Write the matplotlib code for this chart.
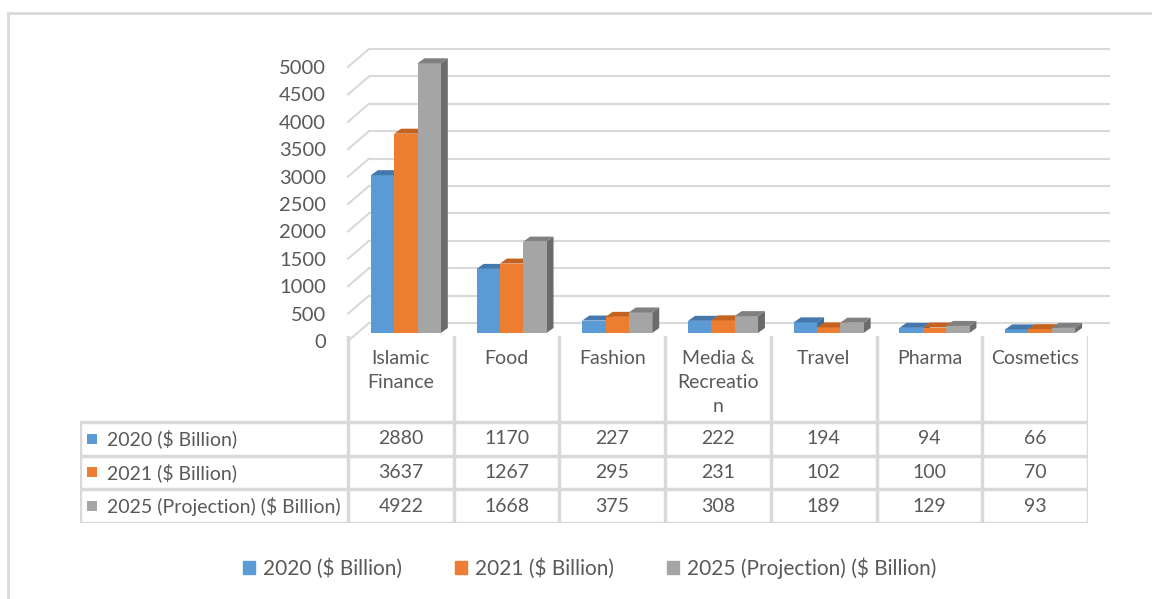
import numpy as np
import matplotlib.pyplot as plt
from matplotlib.patches import Polygon, Rectangle, Patch

plt.rcParams['font.family'] = ['Lato', 'DejaVu Sans']

# data
categories = ["Islamic\nFinance", "Food", "Fashion", "Media &\nRecreatio\nn",
              "Travel", "Pharma", "Cosmetics"]
series_names = ["2020 ($ Billion)", "2021 ($ Billion)", "2025 (Projection) ($ Billion)"]
v2020 = [2880, 1170, 227, 222, 194, 94, 66]
v2021 = [3637, 1267, 295, 231, 102, 100, 70]
v2025 = [4922, 1668, 375, 308, 189, 129, 93]
series = [v2020, v2021, v2025]
yticks = list(range(0, 5001, 500))

front_colors = ["#5B9BD5", "#ED7D31", "#A5A5A5"]
top_colors = ["#4578AD", "#C4621F", "#808080"]
side_colors = ["#3E6C9C", "#A9531A", "#6B6B6B"]
grid_c = "#D9D9D9"
text_c = "#595959"

W, H = 1152, 599
fig = plt.figure(figsize=(W / 100, H / 100), dpi=100)

# plot area: front plane, 7 categories between x=348..1088 px, 0 at y=341, 5000 at y=67
ax = fig.add_axes([348 / W, 1 - 341 / H, 740 / W, 274 / H])
ax.set_xlim(0, 7)
ax.set_ylim(0, 5000)
pxx = 740 / 7          # px per category
pxy = 274 / 5000       # px per value unit

back_dx, back_dy = 21 / pxx, 18 / pxy
bar_dx, bar_dy = 5 / pxx, 8 / pxy
dep_dx, dep_dy = 7 / pxx, 5 / pxy
bw = 23.3 / pxx

# walls gridlines (3D perspective)
for v in yticks:
    ax.plot([0, back_dx], [v, v + back_dy], color=grid_c, lw=1.5, zorder=1, clip_on=False)
    ax.plot([back_dx, 7 + back_dx], [v + back_dy, v + back_dy], color=grid_c, lw=1.5,
            zorder=1, clip_on=False)

# bars
x = np.arange(len(categories))
for i in x:
    for s in range(3):
        v = series[s][i]
        left = i + 0.5 - 1.5 * bw + s * bw + bar_dx
        base = bar_dy
        ax.bar(left, v, width=bw, bottom=base, align='edge', color=front_colors[s],
               lw=0, zorder=3 + i * 3 + s, clip_on=False)
        top = base + v
        ax.add_patch(Polygon([(left, top), (left + bw, top), (left + bw + dep_dx, top + dep_dy),
                              (left + dep_dx, top + dep_dy)], closed=True,
                             color=top_colors[s], lw=0, zorder=3 + i * 3 + s, clip_on=False))
        ax.add_patch(Polygon([(left + bw, base), (left + bw + dep_dx, base + dep_dy),
                              (left + bw + dep_dx, top + dep_dy), (left + bw, top)], closed=True,
                             color=side_colors[s], lw=0, zorder=2.9 + i * 3 + s, clip_on=False))

ax.set_xticks([])
ax.set_yticks(yticks)
ax.set_yticklabels([str(t) for t in yticks])
ax.tick_params(axis='y', length=0, pad=16, labelsize=14.5, labelcolor=text_c)
for sp in ax.spines.values():
    sp.set_visible(False)
ax.patch.set_visible(False)

# data table
hdr = 86 / 33.7
xl = -268 / pxx
tax = fig.add_axes([80 / W, 1 - 523 / H, 1008 / W, (523 - 336) / H])
tax.set_xlim(xl, 7)
tax.set_ylim(3, -hdr)
tax.axis('off')
for r in range(4):
    tax.plot([xl, 7], [r, r], color=grid_c, lw=2.5, solid_capstyle='projecting')
tax.plot([xl, xl], [0, 3], color=grid_c, lw=2.5, solid_capstyle='projecting')
for c in range(8):
    tax.plot([c, c], [-hdr, 3], color=grid_c, lw=2.5, solid_capstyle='projecting')

for i, cat in enumerate(categories):
    tax.text(i + 0.5, -hdr + 0.42, cat, ha='center', va='top', fontsize=14,
             color=text_c, linespacing=1.5)
for r in range(3):
    tax.scatter([xl + 12 / pxx], [r + 0.5], marker='s', s=60, color=front_colors[r], lw=0)
    tax.text(xl + 27 / pxx, r + 0.5, series_names[r], ha='left', va='center',
             fontsize=14, color=text_c)
    for i in range(len(categories)):
        tax.text(i + 0.5, r + 0.5, str(series[r][i]), ha='center', va='center',
                 fontsize=14, color=text_c)

# legend
handles = [Patch(color=front_colors[s], label=series_names[s]) for s in range(3)]
fig.legend(handles=handles, loc='center', bbox_to_anchor=(590 / W, 1 - 568 / H), ncol=3,
           frameon=False, fontsize=15, handlelength=0.55, handleheight=0.55,
           handletextpad=0.4, columnspacing=2.55, labelcolor=text_c)

# chart border
fig.add_artist(Rectangle((8 / W, -0.05), 1.1, 1 - 13 / H + 0.05, transform=fig.transFigure,
                         fill=False, edgecolor=grid_c, lw=2))

fig.savefig("out.png", dpi=100)
